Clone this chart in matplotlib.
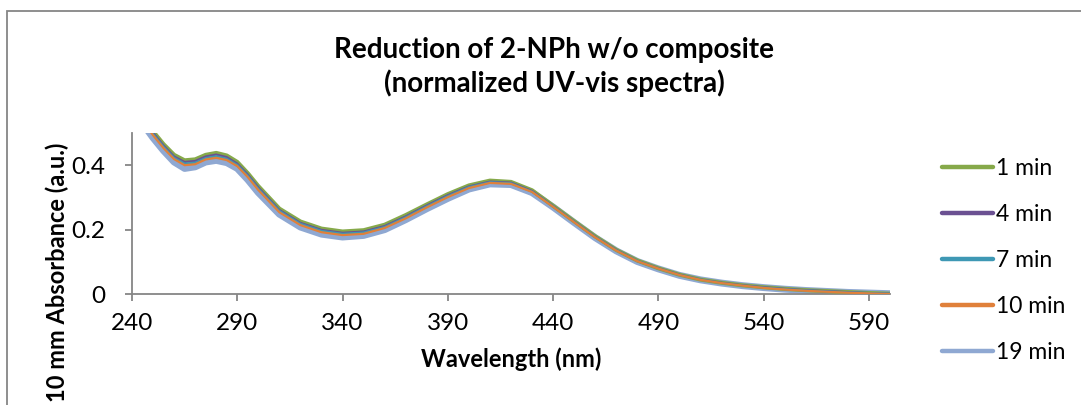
import matplotlib.pyplot as plt
from matplotlib.patches import Rectangle

# wavelength grid (nm)
wavelength = [240, 245, 250, 255, 260, 265, 270, 275, 280, 285, 290, 295, 300,
              310, 320, 330, 340, 350, 360, 370, 380, 390, 400, 410, 420, 430,
              440, 450, 460, 470, 480, 490, 500, 510, 520, 530, 540, 550, 560,
              570, 580, 590, 600]

abs_1min = [0.600, 0.550, 0.505, 0.465, 0.432, 0.415, 0.418, 0.432, 0.438, 0.430,
            0.410, 0.375, 0.335, 0.265, 0.225, 0.203, 0.194, 0.198, 0.215, 0.245,
            0.278, 0.310, 0.337, 0.352, 0.348, 0.322, 0.274, 0.226, 0.179, 0.137,
            0.104, 0.080, 0.060, 0.045, 0.035, 0.027, 0.021, 0.016, 0.012, 0.009,
            0.006, 0.003, 0.001]
abs_4min = [0.596, 0.546, 0.501, 0.461, 0.427, 0.410, 0.413, 0.427, 0.433, 0.425,
            0.405, 0.371, 0.331, 0.261, 0.221, 0.199, 0.190, 0.194, 0.211, 0.241,
            0.275, 0.307, 0.334, 0.349, 0.346, 0.320, 0.273, 0.225, 0.178, 0.137,
            0.103, 0.080, 0.060, 0.045, 0.035, 0.027, 0.021, 0.016, 0.012, 0.009,
            0.006, 0.003, 0.001]
abs_7min = [0.592, 0.542, 0.497, 0.457, 0.423, 0.405, 0.408, 0.422, 0.428, 0.420,
            0.401, 0.367, 0.327, 0.258, 0.218, 0.196, 0.187, 0.191, 0.208, 0.238,
            0.272, 0.304, 0.332, 0.347, 0.344, 0.318, 0.272, 0.224, 0.177, 0.136,
            0.103, 0.079, 0.059, 0.045, 0.034, 0.026, 0.020, 0.015, 0.011, 0.008,
            0.005, 0.003, 0.001]
abs_10min = [0.588, 0.538, 0.493, 0.453, 0.419, 0.400, 0.403, 0.418, 0.423, 0.416,
             0.397, 0.363, 0.323, 0.254, 0.214, 0.192, 0.183, 0.187, 0.205, 0.235,
             0.269, 0.301, 0.329, 0.345, 0.342, 0.317, 0.271, 0.223, 0.176, 0.135,
             0.102, 0.079, 0.059, 0.044, 0.034, 0.026, 0.019, 0.014, 0.010, 0.007,
             0.004, 0.002, 0.000]
abs_19min = [0.580, 0.530, 0.485, 0.445, 0.410, 0.390, 0.395, 0.410, 0.415, 0.408,
             0.390, 0.355, 0.315, 0.248, 0.208, 0.186, 0.177, 0.182, 0.200, 0.231,
             0.265, 0.297, 0.326, 0.342, 0.340, 0.315, 0.270, 0.222, 0.175, 0.134,
             0.101, 0.078, 0.058, 0.044, 0.034, 0.026, 0.020, 0.015, 0.011, 0.008,
             0.005, 0.003, 0.001]

labels = ['1 min', '4 min', '7 min', '10 min', '19 min']
series = [abs_1min, abs_4min, abs_7min, abs_10min, abs_19min]
colors = ['#86A94A', '#6B5192', '#3E98B4', '#E0803A', '#8FA8D2']
widths = [3.0, 1.6, 1.6, 1.6, 5.0]
zorders = [3, 4, 5, 6, 2]

xticks = [240, 290, 340, 390, 440, 490, 540, 590]
yticks = [0, 0.2, 0.4]

plt.rcParams['font.family'] = ['Lato', 'DejaVu Sans']
grey = '#868686'

fig = plt.figure(figsize=(10.81, 4.05), dpi=100)
ax = fig.add_axes([0.1221, 0.274, 0.7012, 0.3976])

for vals, lab, col, lw, z in zip(series, labels, colors, widths, zorders):
    ax.plot(wavelength, vals, color=col, lw=lw, label=lab, zorder=z,
            solid_capstyle='round', solid_joinstyle='round')

ax.set_xlim(240, 600)
ax.set_ylim(0, 0.5)
ax.set_xticks(xticks)
ax.set_yticks(yticks)
ax.set_yticklabels(['0', '0.2', '0.4'])
ax.tick_params(axis='both', colors=grey, labelcolor='black', labelsize=17.5,
               length=5, width=1.3, direction='out')
ax.tick_params(axis='x', pad=9)
ax.tick_params(axis='y', pad=14)
for side in ['top', 'right']:
    ax.spines[side].set_visible(False)
for side in ['left', 'bottom']:
    ax.spines[side].set_color(grey)
    ax.spines[side].set_linewidth(1.3)

ax.set_xlabel('Wavelength (nm)', fontsize=17, fontweight='bold', labelpad=9)
fig.text(0.0527, 0.328, '10 mm Absorbance (a.u.)', rotation=90, fontsize=17,
         fontweight='bold', ha='center', va='center')

# two-line chart title
fig.text(0.5125, 0.857, 'Reduction of 2-NPh w/o composite', fontsize=20,
         fontweight='bold', ha='center', va='baseline')
fig.text(0.5125, 0.773, '(normalized UV-vis spectra)', fontsize=20,
         fontweight='bold', ha='center', va='baseline')

# legend with uniform line samples
handles = [plt.Line2D([], [], color=c, lw=3.2, solid_capstyle='round') for c in colors]
fig.legend(handles, labels, loc='upper left', bbox_to_anchor=(0.871, 0.610),
           frameon=False, fontsize=16.5, handlelength=2.25, handletextpad=0.12,
           labelspacing=1.09, borderpad=0, borderaxespad=0)

# chart area border (only top and left are visible in the crop)
fig.add_artist(Rectangle((7 / 1081, -0.5), 1.5, 1.5 - 11 / 405,
                         transform=fig.transFigure, fill=False,
                         edgecolor=grey, lw=1.3, clip_on=False))

fig.savefig('out.png', dpi=100)
